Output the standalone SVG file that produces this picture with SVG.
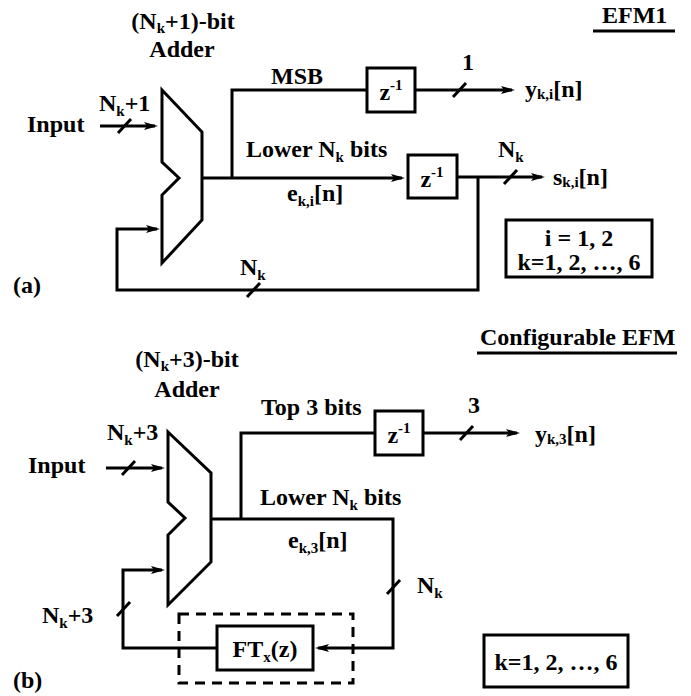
<svg xmlns="http://www.w3.org/2000/svg" width="691" height="696" viewBox="0 0 691 696">
<style>
text{font-family:"Liberation Serif","Times New Roman",serif;font-weight:bold;font-size:24px;fill:#000}
.s{font-size:15px}
.mc{text-anchor:middle}
.ln{fill:none;stroke:#000;stroke-width:3;stroke-linejoin:miter}
.bx{fill:#fff;stroke:#000;stroke-width:3}
.sl{stroke:#000;stroke-width:3}
.dash{fill:none;stroke:#000;stroke-width:3;stroke-dasharray:10,7}
</style>
<defs>
<marker id="ah" markerUnits="userSpaceOnUse" markerWidth="16" markerHeight="10" refX="11" refY="5" orient="auto" overflow="visible">
<path d="M0,1 L14,5 L0,9 L3,5 Z" fill="#000"/>
</marker>
</defs>
<rect width="691" height="696" fill="#fff"/>

<g id="connectors">
<path class="ln" d="M100,126 H155" marker-end="url(#ah)"/>
<path class="ln" d="M202,178 H402" marker-end="url(#ah)"/>
<path class="ln" d="M232,178 V90 H367"/>
<path class="ln" d="M415,90 H512" marker-end="url(#ah)"/>
<path class="ln" d="M457,177 H542" marker-end="url(#ah)"/>
<path class="ln" d="M478,177 V290 H117 V229 H157" marker-end="url(#ah)"/>
<line class="sl" x1="118" y1="133" x2="131" y2="119"/>
<line class="sl" x1="453" y1="97" x2="466" y2="83"/>
<line class="sl" x1="504" y1="184" x2="517" y2="170"/>
<line class="sl" x1="247" y1="297" x2="260" y2="283"/>
<path class="ln" d="M106,468 H162" marker-end="url(#ah)"/>
<path class="ln" d="M211,519 H393 V648 H318" marker-end="url(#ah)"/>
<path class="ln" d="M241,519 V433 H375"/>
<path class="ln" d="M423,433 H517" marker-end="url(#ah)"/>
<path class="ln" d="M217,648 H123 V570 H162" marker-end="url(#ah)"/>
<line class="sl" x1="122" y1="475" x2="135" y2="461"/>
<line class="sl" x1="460" y1="440" x2="473" y2="426"/>
<line class="sl" x1="387" y1="594" x2="400" y2="580"/>
<line class="sl" x1="117" y1="616" x2="130" y2="602"/>
</g>

<g id="adder-a">
<polygon class="bx" points="162,90 202,132 202,220 162,263 162,195 179,178 162,162"/>
<text class="mc" x="183" y="29">(N<tspan class="s" dy="4">k</tspan><tspan dy="-4">+1)-bit</tspan></text>
<text class="mc" x="182" y="57">Adder</text>
</g>
<g id="delay-msb-a">
<rect class="bx" x="367" y="68" width="48" height="44"/>
<text class="mc" x="391" y="100">z<tspan class="s" dy="-10">-1</tspan></text>
</g>
<g id="delay-low-a">
<rect class="bx" x="408" y="155" width="49" height="43"/>
<text class="mc" x="432" y="187">z<tspan class="s" dy="-10">-1</tspan></text>
</g>
<g id="info-a">
<rect class="bx" x="506" y="220" width="146" height="57"/>
<text class="mc" x="579" y="246">i = 1, 2</text>
<text class="mc" x="579" y="270">k=1, 2, …, 6</text>
</g>
<g id="labels-a">
<text x="602" y="23">EFM1</text>
<line class="sl" x1="593" y1="31" x2="675" y2="31"/>
<text x="99" y="111">N<tspan class="s" dy="5">k</tspan><tspan dy="-5">+1</tspan></text>
<text x="27" y="132">Input</text>
<text x="271" y="84">MSB</text>
<text x="462" y="70">1</text>
<text x="525" y="97">y<tspan class="s" dy="2">k,i</tspan><tspan dy="-2">[n]</tspan></text>
<text x="246" y="157">Lower N<tspan class="s" dy="5">k</tspan><tspan dy="-5"> bits</tspan></text>
<text x="287" y="201">e<tspan class="s" dy="5">k,i</tspan><tspan dy="-5">[n]</tspan></text>
<text x="498" y="157">N<tspan class="s" dy="5">k</tspan></text>
<text x="553" y="185">s<tspan class="s" dy="2">k,i</tspan><tspan dy="-2">[n]</tspan></text>
<text x="240" y="275">N<tspan class="s" dy="5">k</tspan></text>
<text x="13" y="293">(a)</text>
</g>

<g id="adder-b">
<polygon class="bx" points="168,432 211,473 211,562 168,605 168,535 185,518 168,502"/>
<text class="mc" x="187" y="367">(N<tspan class="s" dy="4">k</tspan><tspan dy="-4">+3)-bit</tspan></text>
<text class="mc" x="187" y="397">Adder</text>
</g>
<g id="delay-top-b">
<rect class="bx" x="375" y="411" width="48" height="44"/>
<text class="mc" x="399" y="443">z<tspan class="s" dy="-10">-1</tspan></text>
</g>
<g id="filter-group-b">
<rect class="dash" x="179" y="614" width="174" height="69"/>
</g>
<g id="ft-b">
<rect class="bx" x="217" y="626" width="96" height="44"/>
<text class="mc" x="265" y="657">FT<tspan class="s" dy="5">x</tspan><tspan dy="-5">(z)</tspan></text>
</g>
<g id="info-b">
<rect class="bx" x="484" y="635" width="144" height="52"/>
<text class="mc" x="556" y="670">k=1, 2, …, 6</text>
</g>
<g id="labels-b">
<text x="480" y="345">Configurable EFM</text>
<line class="sl" x1="477" y1="353" x2="677" y2="353"/>
<text x="107" y="440">N<tspan class="s" dy="5">k</tspan><tspan dy="-5">+3</tspan></text>
<text x="28" y="473">Input</text>
<text x="261" y="415">Top 3 bits</text>
<text x="468" y="413">3</text>
<text x="535" y="442">y<tspan class="s" dy="2">k,3</tspan><tspan dy="-2">[n]</tspan></text>
<text x="260" y="505">Lower N<tspan class="s" dy="5">k</tspan><tspan dy="-5"> bits</tspan></text>
<text x="288" y="548">e<tspan class="s" dy="5">k,3</tspan><tspan dy="-5">[n]</tspan></text>
<text x="417" y="593">N<tspan class="s" dy="5">k</tspan></text>
<text x="42" y="623">N<tspan class="s" dy="5">k</tspan><tspan dy="-5">+3</tspan></text>
<text x="13" y="688">(b)</text>
</g>
</svg>
